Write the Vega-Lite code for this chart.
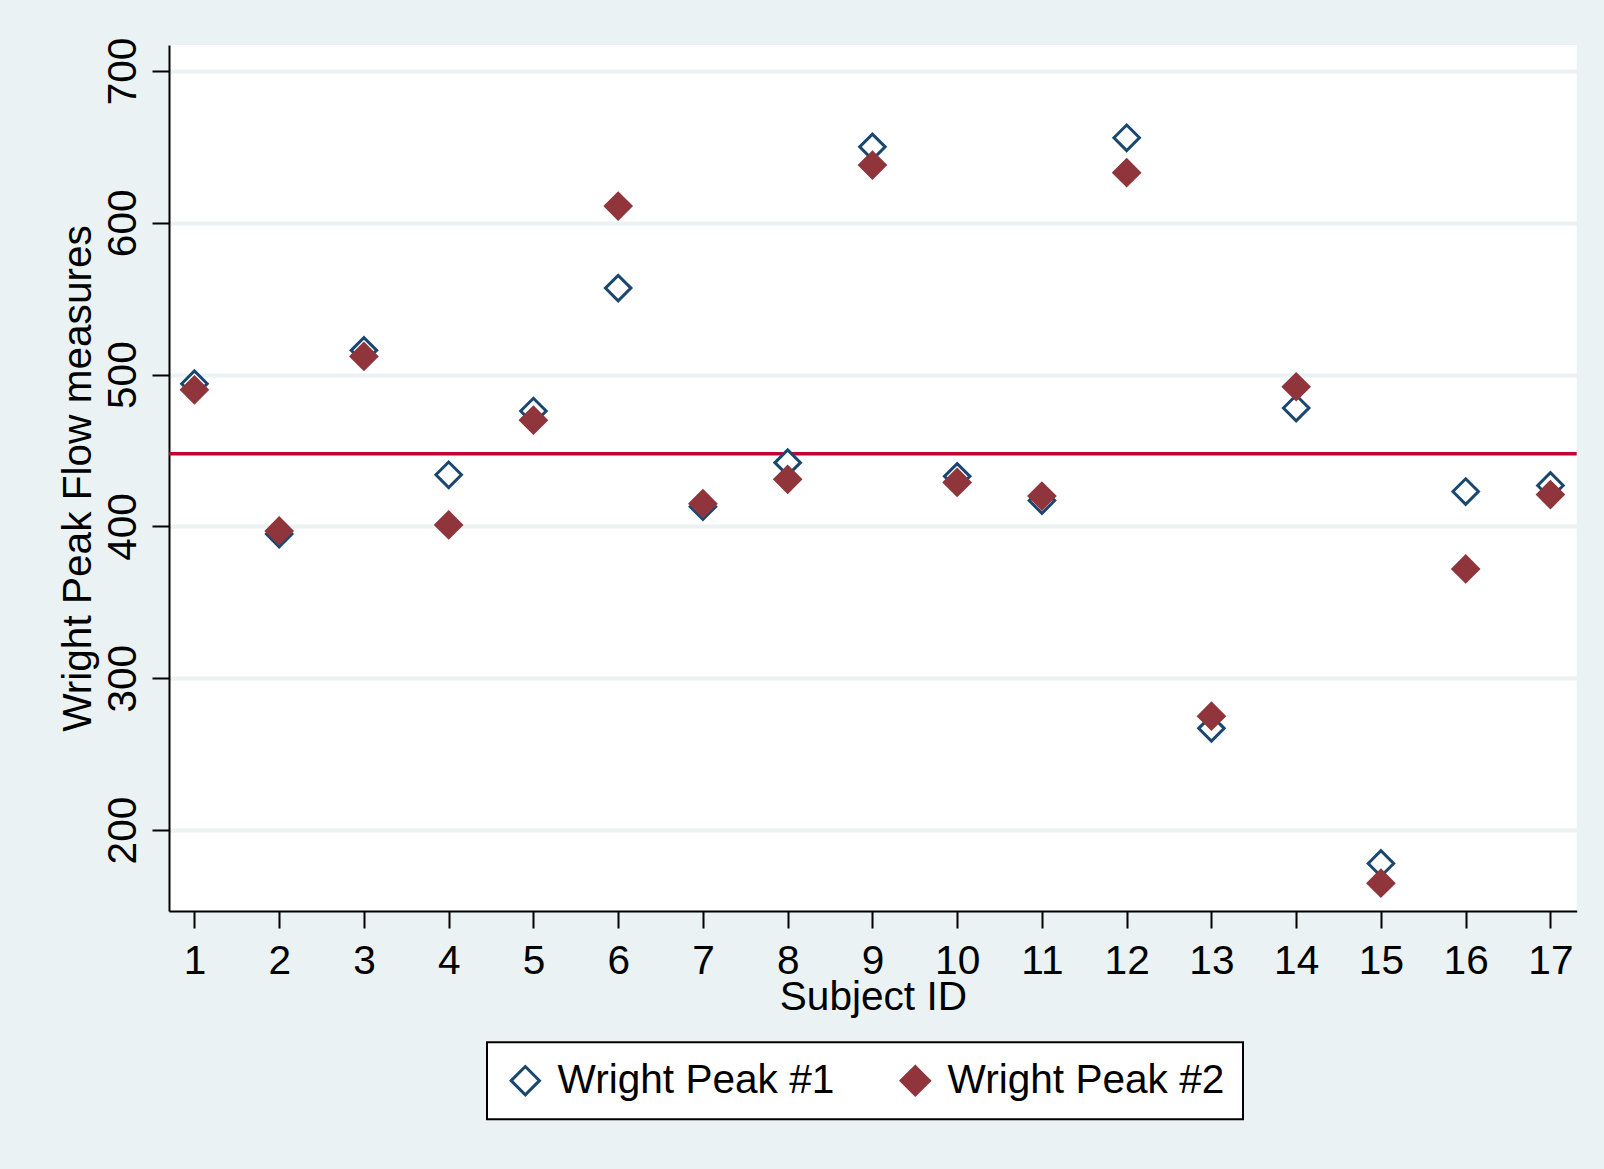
{
  "$schema": "https://vega.github.io/schema/vega-lite/v6.json",
  "autosize": {"type": "none"},
  "width": 1407.7,
  "height": 866,
  "padding": {"left": 169, "top": 45, "right": 27.3, "bottom": 258},
  "background": "#eaf2f3",
  "config": {
    "view": {"fill": "#ffffff", "stroke": null},
    "font": "Liberation Sans",
    "axis": {
      "labelFont": "Liberation Sans",
      "titleFont": "Liberation Sans",
      "labelColor": "#000000",
      "titleColor": "#000000",
      "labelFontSize": 40.6,
      "titleFontSize": 40.6,
      "titleFontWeight": "normal",
      "domainColor": "#000000",
      "domainWidth": 2,
      "tickColor": "#000000",
      "tickWidth": 2,
      "tickSize": 17,
      "labelOverlap": false,
      "labelFlush": false
    },
    "legend": {
      "labelFont": "Liberation Sans",
      "labelFontSize": 40.6,
      "labelColor": "#000000",
      "labelLimit": 0,
      "strokeColor": "#000000",
      "strokeWidth": 2,
      "fillColor": "#ffffff"
    }
  },
  "datasets": {
    "peaks": [
      {"id": 1, "series": "Wright Peak #1", "value": 494},
      {"id": 2, "series": "Wright Peak #1", "value": 395},
      {"id": 3, "series": "Wright Peak #1", "value": 516},
      {"id": 4, "series": "Wright Peak #1", "value": 434},
      {"id": 5, "series": "Wright Peak #1", "value": 476},
      {"id": 6, "series": "Wright Peak #1", "value": 557},
      {"id": 7, "series": "Wright Peak #1", "value": 413},
      {"id": 8, "series": "Wright Peak #1", "value": 442},
      {"id": 9, "series": "Wright Peak #1", "value": 650},
      {"id": 10, "series": "Wright Peak #1", "value": 433},
      {"id": 11, "series": "Wright Peak #1", "value": 417},
      {"id": 12, "series": "Wright Peak #1", "value": 656},
      {"id": 13, "series": "Wright Peak #1", "value": 267},
      {"id": 14, "series": "Wright Peak #1", "value": 478},
      {"id": 15, "series": "Wright Peak #1", "value": 178},
      {"id": 16, "series": "Wright Peak #1", "value": 423},
      {"id": 17, "series": "Wright Peak #1", "value": 427},
      {"id": 1, "series": "Wright Peak #2", "value": 490},
      {"id": 2, "series": "Wright Peak #2", "value": 397},
      {"id": 3, "series": "Wright Peak #2", "value": 512},
      {"id": 4, "series": "Wright Peak #2", "value": 401},
      {"id": 5, "series": "Wright Peak #2", "value": 470},
      {"id": 6, "series": "Wright Peak #2", "value": 611},
      {"id": 7, "series": "Wright Peak #2", "value": 415},
      {"id": 8, "series": "Wright Peak #2", "value": 431},
      {"id": 9, "series": "Wright Peak #2", "value": 638},
      {"id": 10, "series": "Wright Peak #2", "value": 429},
      {"id": 11, "series": "Wright Peak #2", "value": 420},
      {"id": 12, "series": "Wright Peak #2", "value": 633},
      {"id": 13, "series": "Wright Peak #2", "value": 275},
      {"id": 14, "series": "Wright Peak #2", "value": 492},
      {"id": 15, "series": "Wright Peak #2", "value": 165},
      {"id": 16, "series": "Wright Peak #2", "value": 372},
      {"id": 17, "series": "Wright Peak #2", "value": 421}
    ],
    "meanline": [{"mean": 447.9}]
  },
  "layer": [
    {
      "data": {"name": "meanline"},
      "mark": {"type": "rule", "color": "#c10534", "strokeWidth": 3.5},
      "encoding": {
        "y": {
          "field": "mean",
          "type": "quantitative",
          "scale": {"domain": [146.7, 717.1], "nice": false, "zero": false},
          "axis": {
            "values": [200, 300, 400, 500, 600, 700],
            "format": "d",
            "grid": true,
            "gridColor": "#eaf2f3",
            "gridWidth": 4,
            "labelAngle": 270,
            "labelAlign": "center",
            "labelBaseline": "alphabetic",
            "labelPadding": 17,
            "title": "Wright Peak Flow measures",
            "titleAngle": 270,
            "titleAlign": "center",
            "titleBaseline": "alphabetic",
            "titleX": -79,
            "titleY": 433
          }
        }
      }
    },
    {
      "data": {"name": "peaks"},
      "mark": {"type": "point", "shape": "diamond", "filled": true, "size": 650, "strokeWidth": 3, "opacity": 1},
      "encoding": {
        "x": {
          "field": "id",
          "type": "quantitative",
          "scale": {"domain": [0.7, 17.31], "nice": false, "zero": false},
          "axis": {
            "values": [1, 2, 3, 4, 5, 6, 7, 8, 9, 10, 11, 12, 13, 14, 15, 16, 17],
            "format": "d",
            "grid": false,
            "labelPadding": 13,
            "labelBaseline": "top",
            "title": "Subject ID",
            "titleBaseline": "alphabetic",
            "titleY": 98
          }
        },
        "y": {"field": "value", "type": "quantitative"},
        "fill": {
          "field": "series",
          "type": "nominal",
          "scale": {"domain": ["Wright Peak #1", "Wright Peak #2"], "range": ["#ffffff", "#90353b"]},
          "legend": {
            "title": null,
            "orient": "none",
            "legendX": 318,
            "legendY": 997.3,
            "direction": "horizontal",
            "symbolType": "diamond",
            "symbolSize": 800,
            "symbolStrokeWidth": 3,
            "symbolOpacity": 1,
            "labelOffset": 12,
            "columnPadding": 60,
            "padding": 18
          }
        },
        "stroke": {
          "field": "series",
          "type": "nominal",
          "scale": {"domain": ["Wright Peak #1", "Wright Peak #2"], "range": ["#1a476f", "#90353b"]},
          "legend": {
            "title": null,
            "orient": "none",
            "legendX": 318,
            "legendY": 997.3,
            "direction": "horizontal",
            "symbolType": "diamond",
            "symbolSize": 800,
            "symbolStrokeWidth": 3,
            "symbolOpacity": 1,
            "labelOffset": 12,
            "columnPadding": 60,
            "padding": 18
          }
        }
      }
    }
  ]
}
